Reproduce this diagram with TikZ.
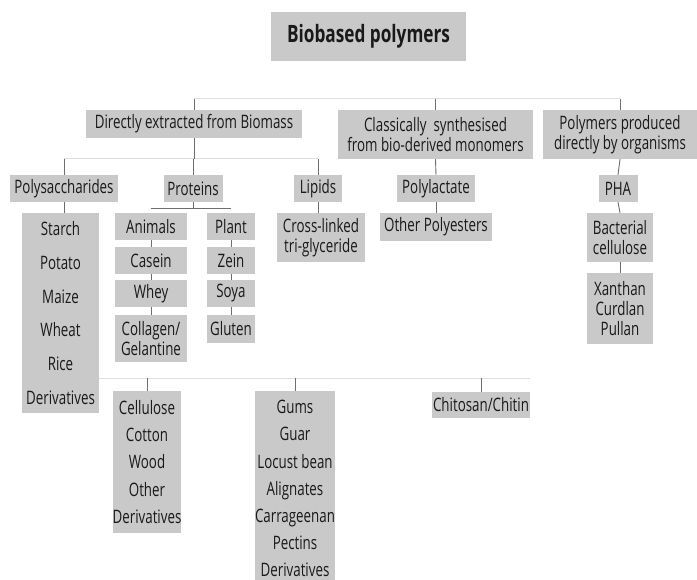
\documentclass[tikz,border=0pt]{standalone}
\usepackage{fontspec}
\setmainfont{Open Sans}[FakeStretch=0.72]
\usetikzlibrary{positioning,calc}
\pgfdeclarelayer{bg}
\pgfsetlayers{bg,main}
\definecolor{boxgray}{RGB}{201,201,201}
\definecolor{inkgray}{RGB}{25,25,25}
\definecolor{busgray}{RGB}{222,222,222}
\definecolor{linkgray}{RGB}{110,110,110}

\begin{document}
\begin{tikzpicture}[x=1bp, y=-1bp,
    % Box styles
    box/.style={fill=boxgray, inner sep=0pt, text=inkgray, align=center, font=\fontsize{18.6}{20}\selectfont},
    wh/.style 2 args={minimum width=#1bp, minimum height=#2bp},
    titlebox/.style={box, font=\fontsize{24}{26}\selectfont\bfseries},
    widelist/.style={box, font=\fontsize{18.6}{34}\selectfont},
    list/.style={box, font=\fontsize{18.6}{27.2}\selectfont},
    % Line styles
    bus/.style={draw=busgray, line width=1bp},
    link/.style={draw=linkgray, line width=0.9bp}
]
\useasboundingbox (0,0) rectangle (697,580);
\clip (0,0) rectangle (697,580);

% Title
\node[titlebox, wh={195}{49}] (title) at (368.5,36.5) {Biobased polymers};

% First level
\node[box, wh={216}{28}] (direct) at (194,124) {Directly extracted from Biomass};
\node[box, wh={195}{49}] (classic) at (435.5,134.5) {Classically\ \ synthesised\\from bio-derived monomers};
\node[box, wh={154}{49}] (organisms) at (620,134.5) {Polymers produced\\directly by organisms};

% Second level
\node[box, wh={108}{27}] (polys) at (64,188.5) {Polysaccharides};
\node[box, wh={59}{27}] (proteins) at (193,188.5) {Proteins};
\node[box, wh={48}{27}] (lipids) at (318,188.5) {Lipids};
\node[box, wh={78}{27}] (polylactate) at (436,188.5) {Polylactate};
\node[box, wh={39}{27}] (pha) at (618,188.5) {PHA};

% Polysaccharides - starch
\node[widelist, wh={77}{200}] (starch) at (60.5,313) {Starch\\Potato\\Maize\\Wheat\\Rice\\Derivatives};

% Proteins - animal and plant columns
\node[box, wh={72}{27}] (animals) at (151,226.5) {Animals};
\node[box, wh={72}{27}] (casein) at (151,260.5) {Casein};
\node[box, wh={72}{27}] (whey) at (151,293.5) {Whey};
\node[box, wh={72}{47}] (collagen) at (151,338.5) {Collagen/\\Gelantine};
\node[box, wh={48}{27}] (plant) at (231,226.5) {Plant};
\node[box, wh={48}{27}] (zein) at (231,260.5) {Zein};
\node[box, wh={48}{27}] (soya) at (231,293.5) {Soya};
\node[box, wh={48}{28}] (gluten) at (231,329) {Gluten};

% Lipids, polyesters, organisms
\node[box, wh={88}{49}] (triglyc) at (321,237.5) {Cross-linked\\tri-glyceride};
\node[box, wh={112}{28}] (otherpoly) at (436,227) {Other Polyesters};
\node[box, wh={66}{49}] (bactcell) at (620,237.5) {Bacterial\\cellulose};
\node[box, wh={66}{71}] (xanthan) at (620,308.5) {Xanthan\\Curdlan\\Pullan};

% Polysaccharides - lower row
\node[list, wh={68}{142}] (cellulose) at (147,462) {Cellulose\\Cotton\\Wood\\Other\\Derivatives};
\node[list, wh={80}{195}] (gums) at (295,488.5) {Gums\\Guar\\Locust bean\\Alignates\\Carrageenan\\Pectins\\Derivatives};
\node[box, wh={98}{26}] (chitosan) at (481,405) {Chitosan/Chitin};

% Bus lines
\coordinate (topbus) at (0,99);
\coordinate (midbus) at (0,159);
\coordinate (protbus) at (0,208);
\coordinate (lowbus) at (0,378);

\begin{pgfonlayer}{bg}
    % top level
    \draw[bus] (direct.north |- topbus) -- (organisms.north |- topbus);
    \foreach \n in {direct,classic,organisms}
        \draw[link] (\n.north |- topbus) -- (\n.north);

    % directly extracted
    \draw[bus] (polys.north |- midbus) -- (lipids.north |- midbus);
    \draw[link] (direct.south) -- (direct.south |- midbus);
    \foreach \n in {polys,proteins,lipids}
        \draw[link] (\n.north |- midbus) -- (\n.north);

    % proteins
    \draw[link] (proteins.south) -- (proteins.south |- protbus);
    \draw[link] (animals.north |- protbus) -- (plant.north |- protbus);
    \foreach \a/\b in {animals/casein,casein/whey,whey/collagen,plant/zein,zein/soya,soya/gluten}
        \draw[link] (\a.south) -- (\b.north);

    % polysaccharides
    \draw[link] (polys.south) -- (polys.south |- lowbus);
    \draw[bus] (polys.south |- lowbus) -- (chitosan.north east |- lowbus);
    \foreach \n in {cellulose,gums,chitosan}
        \draw[link] (\n.north |- lowbus) -- (\n.north);

    % single chains
    \draw[link] (lipids.south) -- (lipids.south |- triglyc.north);
    \draw[link] (classic.south) -- (polylactate.north);
    \draw[link] (polylactate.south) -- (otherpoly.north);
    \draw[link] (organisms.south) -- (pha.north);
    \draw[link] (pha.south) -- (bactcell.north);
    \draw[link] (bactcell.south) -- (xanthan.north);
\end{pgfonlayer}

\end{tikzpicture}
\end{document}
